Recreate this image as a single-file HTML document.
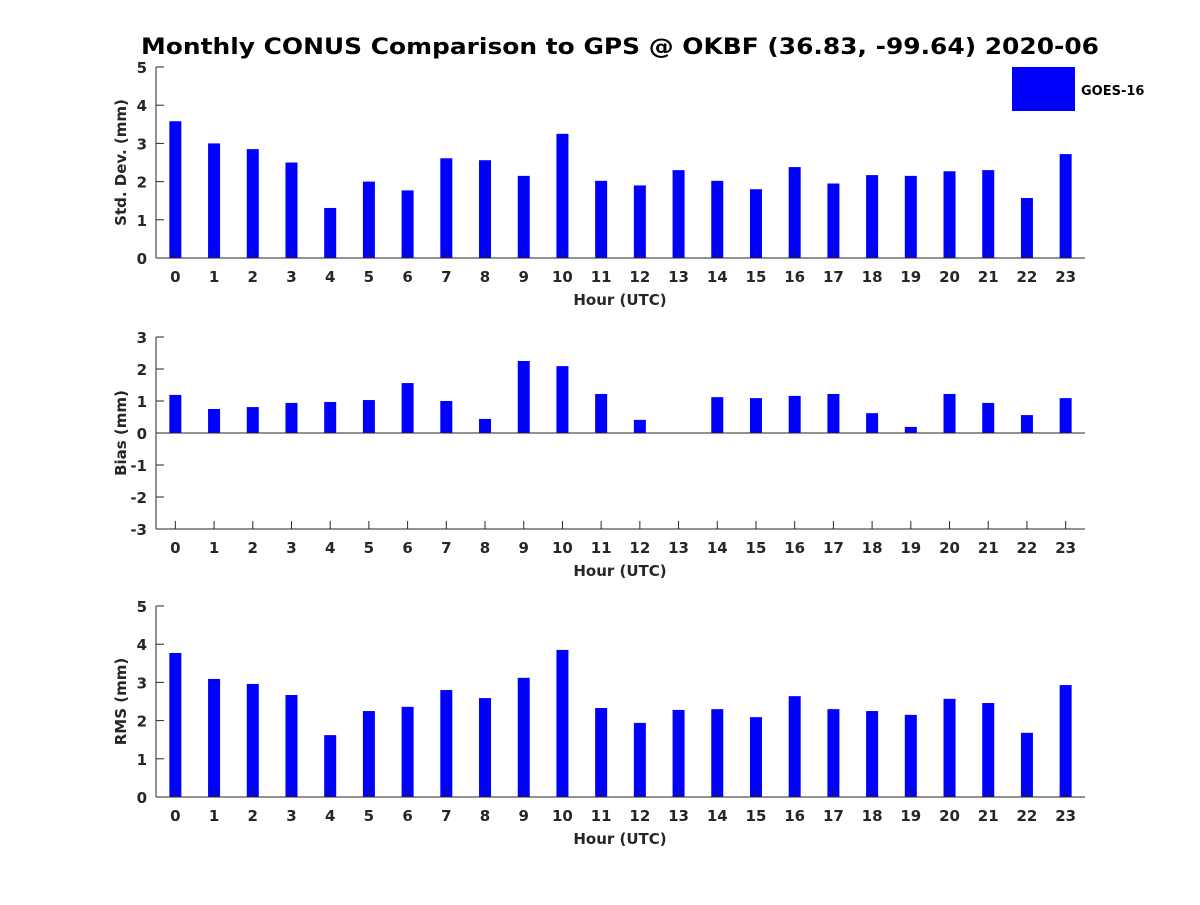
<!DOCTYPE html>
<html><head><meta charset="utf-8"><style>
body{margin:0;background:#fff}
svg text{font-family:"DejaVu Sans","Liberation Sans",sans-serif;font-weight:bold;fill:#262626}
</style></head><body>
<svg id="chart" width="1200" height="900" xmlns="http://www.w3.org/2000/svg">
<rect width="1200" height="900" fill="#fff"/>
<text x="620" y="54" text-anchor="middle" font-size="22" textLength="958" lengthAdjust="spacingAndGlyphs" style="fill:#000">Monthly CONUS Comparison to GPS @ OKBF (36.83, -99.64) 2020-06</text>
<rect x="1012" y="67" width="63" height="44" fill="#0000ff"/>
<text x="1081" y="95" font-size="13" style="fill:#000">GOES-16</text>
</svg>
<script>
const hours=[0,1,2,3,4,5,6,7,8,9,10,11,12,13,14,15,16,17,18,19,20,21,22,23];
const stdVals=[3.58,3.0,2.85,2.5,1.31,2.0,1.77,2.61,2.56,2.15,3.25,2.02,1.9,2.3,2.02,1.8,2.38,1.95,2.17,2.15,2.27,2.3,1.57,2.72];
const biasVals=[1.19,0.75,0.81,0.94,0.97,1.03,1.56,1.0,0.44,2.25,2.09,1.22,0.41,0,1.12,1.09,1.16,1.22,0.62,0.19,1.22,0.94,0.56,1.09];
const rmsVals=[3.77,3.09,2.96,2.67,1.62,2.25,2.36,2.8,2.59,3.12,3.85,2.33,1.94,2.28,2.3,2.09,2.64,2.3,2.25,2.15,2.57,2.46,1.68,2.93];
const stdTicks=[0,1,2,3,4,5];
const biasTicks=[-3,-2,-1,0,1,2,3];
const rmsTicks=[0,1,2,3,4,5];
const svg=document.getElementById('chart');
const NS='http://www.w3.org/2000/svg';
function mk(tag,attrs,parent){const e=document.createElementNS(NS,tag);for(const k in attrs)e.setAttribute(k,attrs[k]);(parent||svg).appendChild(e);return e;}
function panel(name,vals,ticks,ymin,ymax,top,bottom,ylabel){
  const g=mk('g',{});
  
  
  const L=156,R=1085;
  const x=h=>L+(h+0.5)/24*(R-L);
  const y=v=>bottom-(v-ymin)/(ymax-ymin)*(bottom-top);
  vals.forEach((v,i)=>{
    const y0=y(0),y1=y(v);
    const r=mk('rect',{x:x(hours[i])-6,y:Math.min(y0,y1),width:12,height:Math.abs(y1-y0),fill:'#0000ff'},g);
    
    
  });
  mk('line',{x1:L,y1:top,x2:L,y2:bottom,stroke:'#262626','stroke-width':1},g);
  mk('line',{x1:L,y1:bottom,x2:R,y2:bottom,stroke:'#262626','stroke-width':1},g);
  if(ymin<0) mk('line',{x1:L,y1:y(0),x2:R,y2:y(0),stroke:'#262626','stroke-width':1},g);
  ticks.forEach(t=>{
    mk('line',{x1:L,y1:y(t),x2:L+8,y2:y(t),stroke:'#262626'},g);
    const tx=mk('text',{x:L-9,y:y(t)+6,'text-anchor':'end','font-size':15},g);
    tx.textContent=t;
    
    
  });
  hours.forEach(h=>{
    mk('line',{x1:x(h),y1:bottom,x2:x(h),y2:bottom-8,stroke:'#262626'},g);
    const tx=mk('text',{x:x(h),y:bottom+24,'text-anchor':'middle','font-size':15},g);
    tx.textContent=h;
    
    
  });
  const xl=mk('text',{x:620,y:bottom+47,'text-anchor':'middle','font-size':15},g);
  xl.textContent='Hour (UTC)';
  
  
  const cy=(top+bottom)/2;
  const yl=mk('text',{x:126,y:cy,'text-anchor':'middle','font-size':15,transform:'rotate(-90 126 '+cy+')'},g);
  yl.textContent=ylabel;
  
  
}
panel('std-dev',stdVals,stdTicks,0,5,67,258,'Std. Dev. (mm)');
panel('bias',biasVals,biasTicks,-3,3,337,529,'Bias (mm)');
panel('rms',rmsVals,rmsTicks,0,5,606,797,'RMS (mm)');
</script>
</body></html>
